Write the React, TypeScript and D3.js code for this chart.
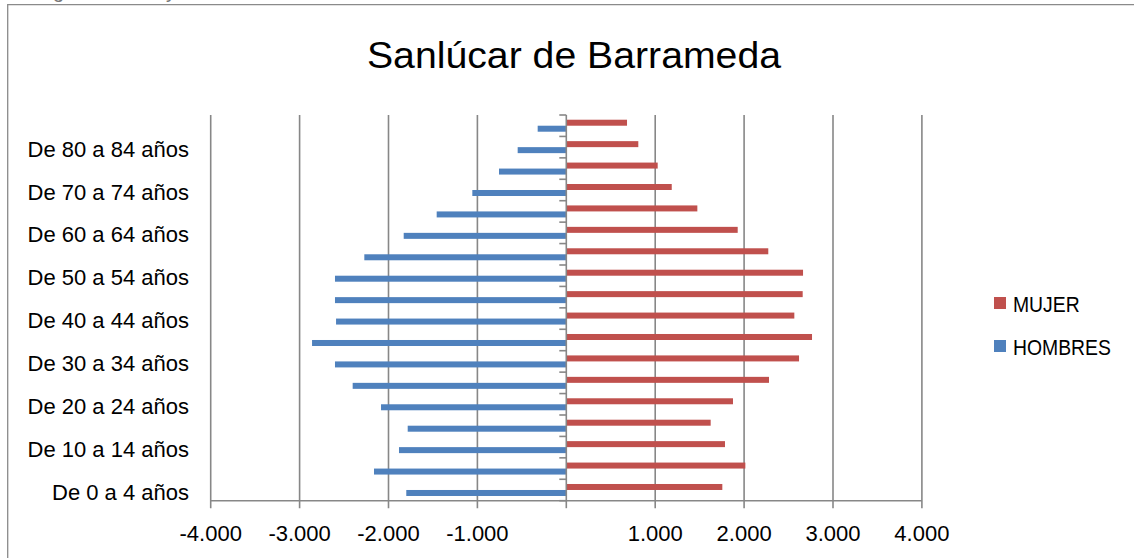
import React from "react";
import * as d3 from "d3";

const categories = [
  "De 0 a 4 años", "De 5 a 9 años", "De 10 a 14 años", "De 15 a 19 años",
  "De 20 a 24 años", "De 25 a 29 años", "De 30 a 34 años", "De 35 a 39 años",
  "De 40 a 44 años", "De 45 a 49 años", "De 50 a 54 años", "De 55 a 59 años",
  "De 60 a 64 años", "De 65 a 69 años", "De 70 a 74 años", "De 75 a 79 años",
  "De 80 a 84 años", "De 85 y más años",
];
const hombres = [1800, 2163, 1882, 1784, 2084, 2403, 2602, 2860, 2590, 2602, 2602, 2272, 1829, 1458, 1057, 757, 547, 322];
const mujer = [1755, 2014, 1785, 1624, 1875, 2280, 2618, 2764, 2565, 2659, 2663, 2272, 1928, 1474, 1186, 1028, 810, 683];
const seriesNames = ["MUJER", "HOMBRES"];
const xTicks = [-4000, -3000, -2000, -1000, 0, 1000, 2000, 3000, 4000];
const title = "Sanlúcar de Barrameda";

const RED = "#C0504D";
const BLUE = "#4F81BD";
const GRID = "#878787";
const FONT = "'Liberation Sans', Arial, sans-serif";

const locale = d3.formatLocale({ decimal: ",", thousands: ".", grouping: [3], currency: ["", "€"], minus: "-" });
const fmt = locale.format(",d");

export default function App() {
  const x = d3.scaleLinear().domain([-4000, 4000]).range([210.7, 921.9]);
  const y = d3.scaleBand<string>().domain([...categories].reverse()).range([115, 500.7]).padding(0);
  const inner = d3.scaleBand<string>().domain(seriesNames).range([0, y.bandwidth()]).paddingInner(0).paddingOuter(0.786);
  const x0 = x(0);
  const axisY = 500.7;
  const boundaries = d3.range(categories.length + 1).map((i) => 115 + i * y.step());

  return (
    <svg width={1134} height={558} style={{ position: "absolute", left: 0, top: 0, background: "#fff" }} fontFamily={FONT}>
      <rect x={0} y={0} width={1134} height={558} fill="#fff" />
      {/* clipped text above */}
      <text x={53} y={-2} fontSize={20} fill="#777">g</text>
      <text x={166} y={-2} fontSize={20} fill="#777">y</text>
      {/* border */}
      <path d={`M7.7,560 V4.7 H1134`} fill="none" stroke="#8a8a8a" strokeWidth={1.3} />
      {/* title */}
      <text transform={`translate(574,68.3) scale(1.06,1)`} textAnchor="middle" fontSize={37} fill="#000">{title}</text>

      {/* gridlines */}
      {xTicks.filter((t) => t !== 0).map((t) => (
        <line key={"g" + t} x1={x(t)} x2={x(t)} y1={115} y2={axisY + 7.5} stroke={GRID} strokeWidth={1.6} />
      ))}
      {/* x axis */}
      <line x1={x(-4000)} x2={x(4000)} y1={axisY} y2={axisY} stroke={GRID} strokeWidth={1.6} />
      <line x1={x0} x2={x0} y1={axisY} y2={axisY + 7.5} stroke={GRID} strokeWidth={1.6} />

      {/* bars */}
      {categories.map((c, i) => (
        <g key={c}>
          <rect x={x0} y={(y(c) as number) + (inner("MUJER") as number)} width={x(mujer[i]) - x0} height={inner.bandwidth()} fill={RED} />
          <rect x={x(-hombres[i])} y={(y(c) as number) + (inner("HOMBRES") as number)} width={x0 - x(-hombres[i])} height={inner.bandwidth()} fill={BLUE} />
        </g>
      ))}

      {/* y axis */}
      <line x1={x0} x2={x0} y1={115} y2={axisY} stroke={GRID} strokeWidth={1.6} />
      {boundaries.map((b, i) => (
        <line key={"t" + i} x1={x0 - 7} x2={x0} y1={b} y2={b} stroke={GRID} strokeWidth={1.6} />
      ))}

      {/* y labels */}
      {categories.map((c, i) =>
        i % 2 === 0 ? (
          <text key={"l" + c} x={189} y={(y(c) as number) + y.bandwidth() / 2 + 9.6} textAnchor="end" fontSize={22} fill="#000">{c}</text>
        ) : null
      )}

      {/* x labels */}
      {xTicks.map((t) => (
        <text key={"x" + t} x={x(t)} y={540.7} textAnchor="middle" fontSize={22} fill="#000">{t === 0 ? "" : fmt(t)}</text>
      ))}

      {/* legend */}
      <rect x={994} y={297} width={12} height={12} fill={RED} />
      <text transform="translate(1013,311.5) scale(0.88,1)" fontSize={22} fill="#000">{seriesNames[0]}</text>
      <rect x={994} y={340} width={12} height={12} fill={BLUE} />
      <text transform="translate(1013,355) scale(0.88,1)" fontSize={22} fill="#000">{seriesNames[1]}</text>
    </svg>
  );
}
